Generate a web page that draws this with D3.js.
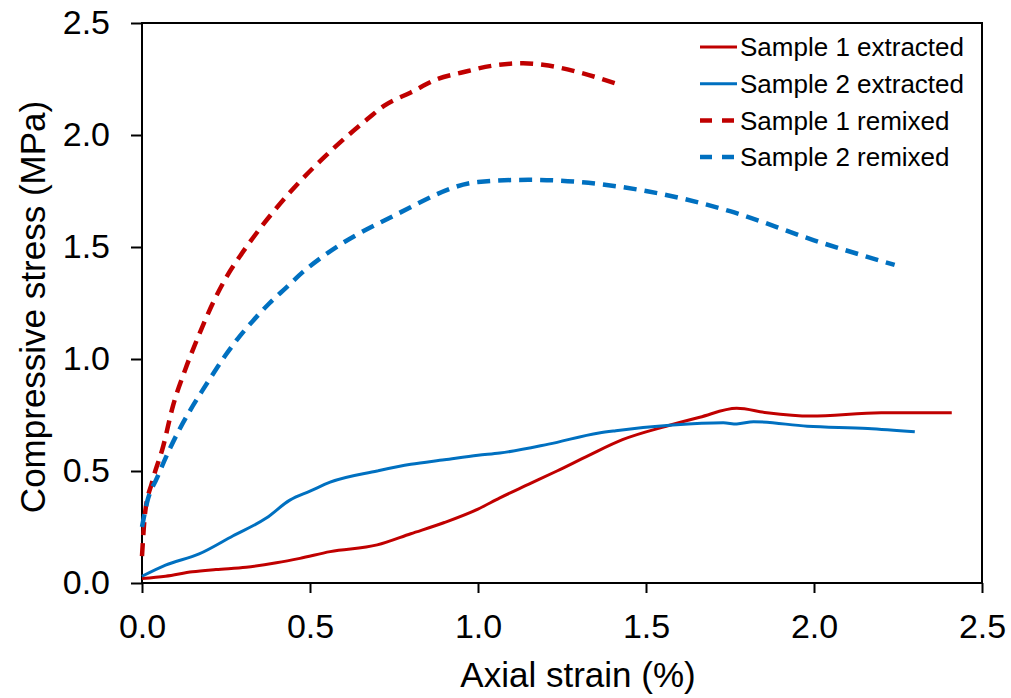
<!DOCTYPE html>
<meta charset="utf-8">
<script src="https://d3js.org/d3.v7.min.js"></script>
<style>
  body { margin: 0; background: #fff; }
  text { font-family: "Liberation Sans", Arial, sans-serif; }
</style>
<div id="my_dataviz"></div>
<script>

// series: [strain %, stress MPa]
var s1Extracted = [[0,0.02],[0.07,0.03],[0.15,0.05],[0.22,0.06],[0.31,0.07],[0.4,0.09],[0.47,0.11],[0.56,0.14],[0.7,0.17],[0.8,0.22],[0.9,0.27],[1.0,0.33],[1.065,0.38],[1.15,0.44],[1.235,0.5],[1.33,0.57],[1.43,0.64],[1.56,0.7],[1.66,0.74],[1.77,0.78],[1.86,0.76],[1.99,0.745],[2.2,0.76],[2.41,0.76]];
var s2Extracted = [[0,0.03],[0.07,0.08],[0.17,0.13],[0.27,0.21],[0.37,0.29],[0.44,0.37],[0.5,0.41],[0.56,0.45],[0.7,0.5],[0.8,0.53],[0.9,0.55],[1.0,0.57],[1.065,0.58],[1.21,0.62],[1.36,0.67],[1.41,0.68],[1.58,0.705],[1.73,0.715],[1.77,0.71],[1.82,0.72],[1.98,0.7],[2.16,0.69],[2.3,0.675]];
var s1Remixed = [[0,0.12],[0.009,0.31],[0.03,0.45],[0.063,0.61],[0.092,0.79],[0.128,0.95],[0.173,1.12],[0.211,1.25],[0.253,1.37],[0.292,1.46],[0.33,1.54],[0.45,1.76],[0.57,1.94],[0.67,2.07],[0.72,2.13],[0.8,2.19],[0.88,2.25],[0.955,2.28],[1.045,2.31],[1.134,2.32],[1.21,2.31],[1.3,2.28],[1.41,2.23]];
var s2Remixed = [[0,0.25],[0.015,0.36],[0.045,0.47],[0.083,0.6],[0.113,0.69],[0.143,0.77],[0.18,0.86],[0.21,0.93],[0.25,1.02],[0.29,1.1],[0.33,1.17],[0.38,1.25],[0.43,1.32],[0.48,1.39],[0.54,1.46],[0.75,1.64],[1.0,1.79],[1.15,1.8],[1.5,1.75],[1.75,1.66],[2.0,1.53],[2.24,1.42]];

var seriesNames = ["Sample 1 extracted", "Sample 2 extracted", "Sample 1 remixed", "Sample 2 remixed"];
var seriesData = [s1Extracted, s2Extracted, s1Remixed, s2Remixed];
var seriesColors = ["#C00000", "#0070C0", "#C00000", "#0070C0"];
var seriesDashed = [false, false, true, true];

var xTicks = [0, 0.5, 1.0, 1.5, 2.0, 2.5];
var yTicks = [0, 0.5, 1.0, 1.5, 2.0, 2.5];

var margin = {top: 23, right: 29, bottom: 115, left: 142},
    width = 1011 - margin.left - margin.right,
    height = 698 - margin.top - margin.bottom;

var svg = d3.select("#my_dataviz")
  .append("svg")
    .attr("width", width + margin.left + margin.right)
    .attr("height", height + margin.top + margin.bottom)
  .append("g")
    .attr("transform", "translate(" + margin.left + "," + margin.top + ")");

var x = d3.scaleLinear().domain([0, 2.5]).range([0, width]);
var y = d3.scaleLinear().domain([0, 2.5]).range([height, 0]);

// X axis
var xAxis = svg.append("g")
  .attr("transform", "translate(0," + height + ")")
  .call(d3.axisBottom(x).tickValues(xTicks).tickFormat(d3.format(".1f")).tickSize(10).tickSizeOuter(0).tickPadding(21));
xAxis.select(".domain").remove();
xAxis.selectAll("line").attr("stroke", "#000").attr("stroke-width", 2);
xAxis.selectAll("text").style("font-size", "34px").attr("fill", "#000");

// Y axis
var yAxis = svg.append("g")
  .call(d3.axisLeft(y).tickValues(yTicks).tickFormat(d3.format(".1f")).tickSize(11).tickSizeOuter(0).tickPadding(21));
yAxis.select(".domain").remove();
yAxis.selectAll("line").attr("stroke", "#000").attr("stroke-width", 2);
yAxis.selectAll("text").style("font-size", "34px").attr("fill", "#000");

// frame
svg.append("rect")
  .attr("width", width)
  .attr("height", height)
  .attr("fill", "none")
  .attr("stroke", "#000")
  .attr("stroke-width", 2);

// axis titles
svg.append("text")
  .attr("text-anchor", "middle")
  .attr("x", 436)
  .attr("y", height + 104)
  .style("font-size", "35px")
  .text("Axial strain (%)");

svg.append("text")
  .attr("text-anchor", "middle")
  .attr("transform", "translate(-97," + 284 + ")rotate(-90)")
  .style("font-size", "35px")
  .text("Compressive stress (MPa)");

// lines
var line = d3.line()
  .x(function(d) { return x(d[0]); })
  .y(function(d) { return y(d[1]); })
  .curve(d3.curveMonotoneX);

seriesData.forEach(function(data, i) {
  svg.append("path")
    .datum(data)
    .attr("fill", "none")
    .attr("stroke", seriesColors[i])
    .attr("stroke-width", seriesDashed[i] ? 4.5 : 3)
    .attr("stroke-dasharray", seriesDashed[i] ? "13,8" : null)
    .attr("d", line);
});

// legend
var legend = svg.append("g")
  .attr("transform", "translate(" + (700 - margin.left) + ",0)");

seriesNames.forEach(function(name, i) {
  var ly = 24 + i * 36.7;
  legend.append("line")
    .attr("x1", 0).attr("x2", 37)
    .attr("y1", ly).attr("y2", ly)
    .attr("stroke", seriesColors[i])
    .attr("stroke-width", seriesDashed[i] ? 4.5 : 3)
    .attr("stroke-dasharray", seriesDashed[i] ? "12,10" : null);
  legend.append("text")
    .attr("x", 40)
    .attr("y", ly)
    .attr("dy", "0.35em")
    .style("font-size", "26px")
    .text(name);
});

</script>
